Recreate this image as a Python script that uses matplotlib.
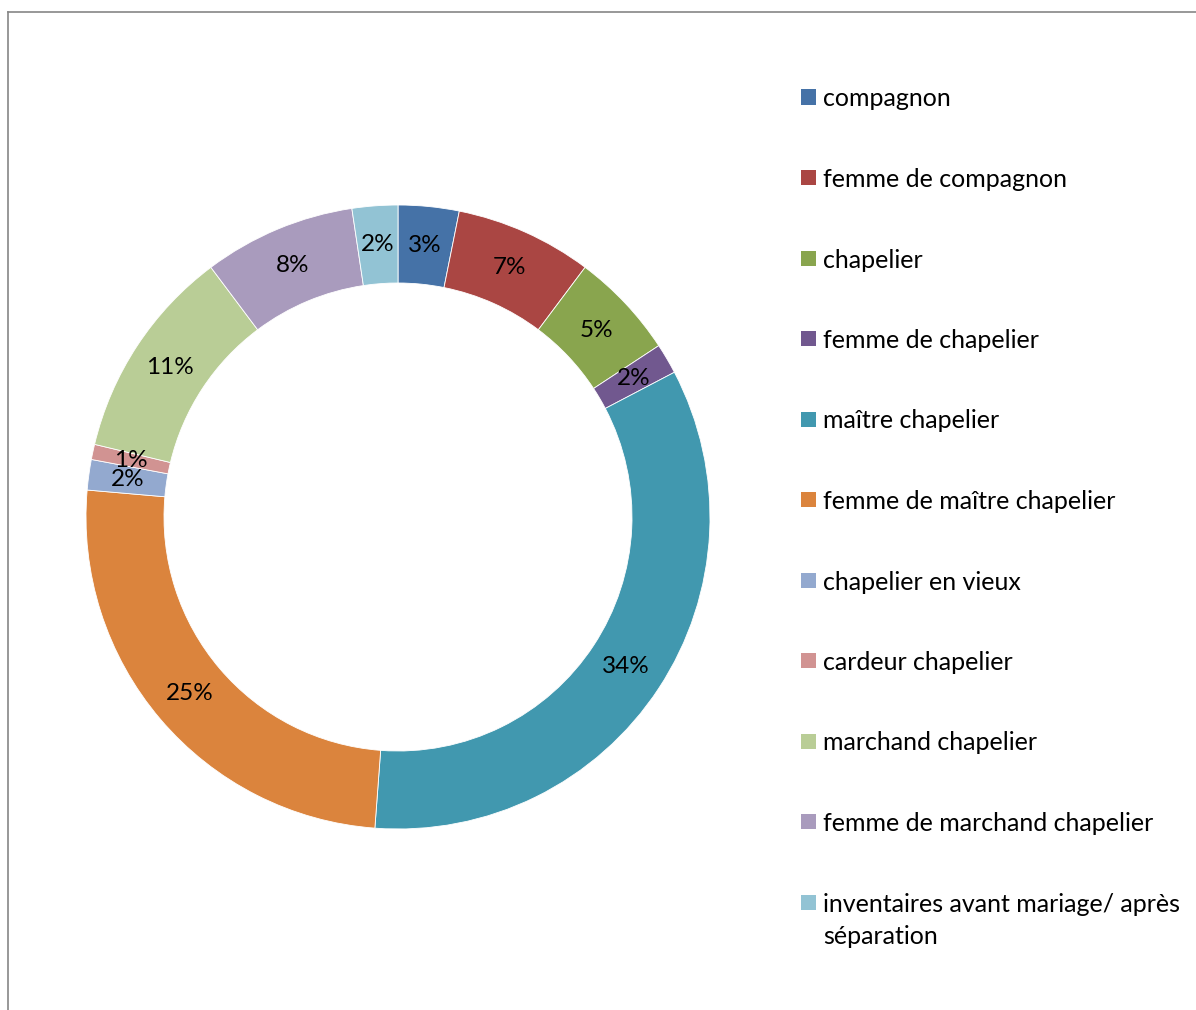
import matplotlib
matplotlib.use("Agg")
import matplotlib.pyplot as plt
from matplotlib.patches import Rectangle
from matplotlib.lines import Line2D
import numpy as np

categories = ["compagnon", "femme de compagnon", "chapelier", "femme de chapelier",
              "maître chapelier", "femme de maître chapelier", "chapelier en vieux",
              "cardeur chapelier", "marchand chapelier", "femme de marchand chapelier",
              "inventaires avant mariage/ après\nséparation"]
values = [4, 9, 7, 2, 43, 32, 2, 1, 14, 10, 3]
pct_labels = ["3%", "7%", "5%", "2%", "34%", "25%", "2%", "1%", "11%", "8%", "2%"]
colors = ["#4572A7", "#AA4643", "#89A54E", "#71588F", "#4198AF", "#DB843D",
          "#93A9CF", "#D19392", "#B9CD96", "#A99BBD", "#92C3D4"]

plt.rcParams['font.family'] = ['Lato', 'DejaVu Sans']

W, H = 1196, 1010
fig = plt.figure(figsize=(W / 100, H / 100), dpi=100)
fig.patch.set_facecolor("white")

cx, cy, R = 398, 517, 312
ax = fig.add_axes([(cx - R) / W, (H - cy - R) / H, 2 * R / W, 2 * R / H])
ax.axis("off")

wedges, _ = ax.pie(values, colors=colors, startangle=90, counterclock=False,
                   radius=1.0, wedgeprops=dict(width=0.25, edgecolor="white", linewidth=0.6))
ax.set_xlim(-1, 1)
ax.set_ylim(-1, 1)

rmid = 0.875
for w, lab in zip(wedges, pct_labels):
    ang = np.deg2rad((w.theta1 + w.theta2) / 2)
    ax.text(rmid * np.cos(ang), rmid * np.sin(ang), lab, ha="center", va="center",
            fontsize=17.5, color="black")

# legend drawn manually
row0 = 97
step = 80.5
fs = 18
for i, (c, lab) in enumerate(zip(colors, categories)):
    y = row0 + i * step
    sq = 15
    fig.patches.append(Rectangle((801 / W, (H - y - sq / 2) / H), sq / W, sq / H,
                                 transform=fig.transFigure, facecolor=c, edgecolor="none"))
    lines = lab.split("\n")
    for j, ln in enumerate(lines):
        fig.text(823 / W, (H - y - j * 33) / H, ln, ha="left", va="center_baseline",
                 fontsize=fs, color="black")

# chart border (partial)
fig.add_artist(Line2D([8 / W, 1.0], [(H - 12) / H, (H - 12) / H], color="#868686", lw=1.2,
                      transform=fig.transFigure))
fig.add_artist(Line2D([8 / W, 8 / W], [0, (H - 12) / H], color="#868686", lw=1.2,
                      transform=fig.transFigure))

fig.savefig("out.png", dpi=100, facecolor="white")
